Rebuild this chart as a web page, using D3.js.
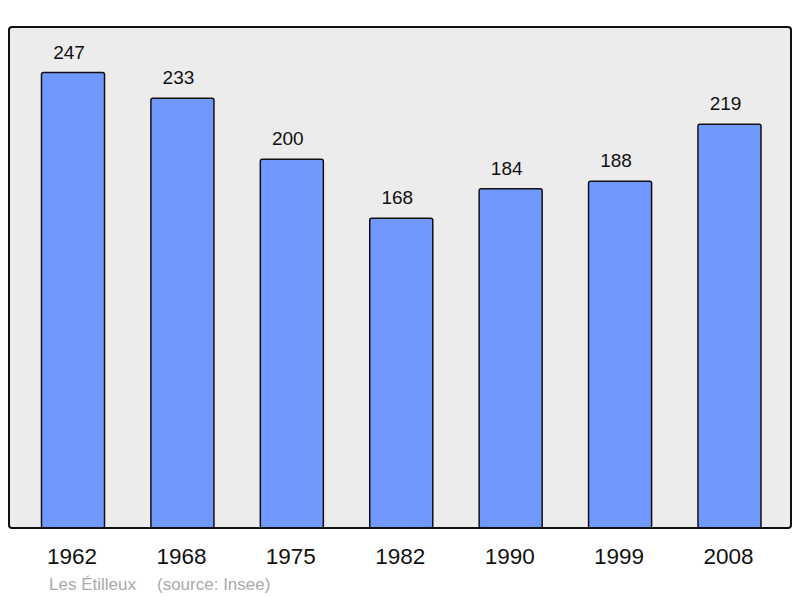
<!DOCTYPE html>
<html><head><meta charset="utf-8">
<script src="https://cdn.jsdelivr.net/npm/d3@7"></script>
<style>body{margin:0;background:#fff}svg{display:block}</style>
</head><body>
<script>
const years = ["1962","1968","1975","1982","1990","1999","2008"];
const population = [247,233,200,168,184,188,219];
const caption = ["Les Étilleux", "(source: Insee)"];

const W = 800, H = 598;
const svg = d3.select("body").append("svg").attr("width", W).attr("height", H);
const frame = {x0: 9, y0: 27, x1: 791, y1: 528};

svg.append("rect").attr("x", frame.x0).attr("y", frame.y0)
  .attr("width", frame.x1 - frame.x0).attr("height", frame.y1 - frame.y0)
  .attr("rx", 3).attr("fill", "#ececec");

const x = d3.scaleBand().domain(years).range([18.3, 784.2]).paddingInner(0.424).paddingOuter(0.212);
const y = d3.scaleLinear().domain([0, d3.max(population) * 1.1]).range([frame.y1, frame.y0]);

const g = svg.append("g");
g.selectAll("rect.bar").data(years).join("rect").attr("class","bar")
  .attr("x", d => x(d)).attr("width", x.bandwidth())
  .attr("y", (d,i) => y(population[i])).attr("height", (d,i) => y(0) - y(population[i]))
  .attr("rx", 2).attr("fill", "#7098ff").attr("stroke", "#111").attr("stroke-width", 1.5);

g.selectAll("text.val").data(years).join("text").attr("class","val")
  .attr("x", d => x(d) + x.bandwidth()/2 - 4).attr("y", (d,i) => y(population[i]) - 14)
  .attr("text-anchor","middle").attr("font-family","Liberation Sans, Arial, sans-serif")
  .attr("font-size", 19).attr("fill","#111").text((d,i) => population[i]);

svg.append("rect").attr("x", frame.x0).attr("y", frame.y0)
  .attr("width", frame.x1 - frame.x0).attr("height", frame.y1 - frame.y0)
  .attr("rx", 3).attr("fill", "none").attr("stroke", "#111").attr("stroke-width", 2);

const xAxis = d3.axisBottom(x).tickSize(0).tickPadding(0);
const ax = svg.append("g").attr("transform", `translate(0,${frame.y1})`).call(xAxis);
ax.select(".domain").remove();
ax.selectAll("text").attr("y", 0).attr("dy", 0).attr("transform", "translate(-1,36)")
  .attr("font-family","Liberation Sans, Arial, sans-serif").attr("font-size", 22.5).attr("fill","#111");

svg.append("text").attr("x", 49).attr("y", 590)
  .attr("font-family","Liberation Sans, Arial, sans-serif").attr("font-size", 17).attr("fill","#aaaaaa")
  .text(caption[0]);
svg.append("text").attr("x", 157).attr("y", 590)
  .attr("font-family","Liberation Sans, Arial, sans-serif").attr("font-size", 17).attr("fill","#aaaaaa")
  .text(caption[1]);
</script>
</body></html>
